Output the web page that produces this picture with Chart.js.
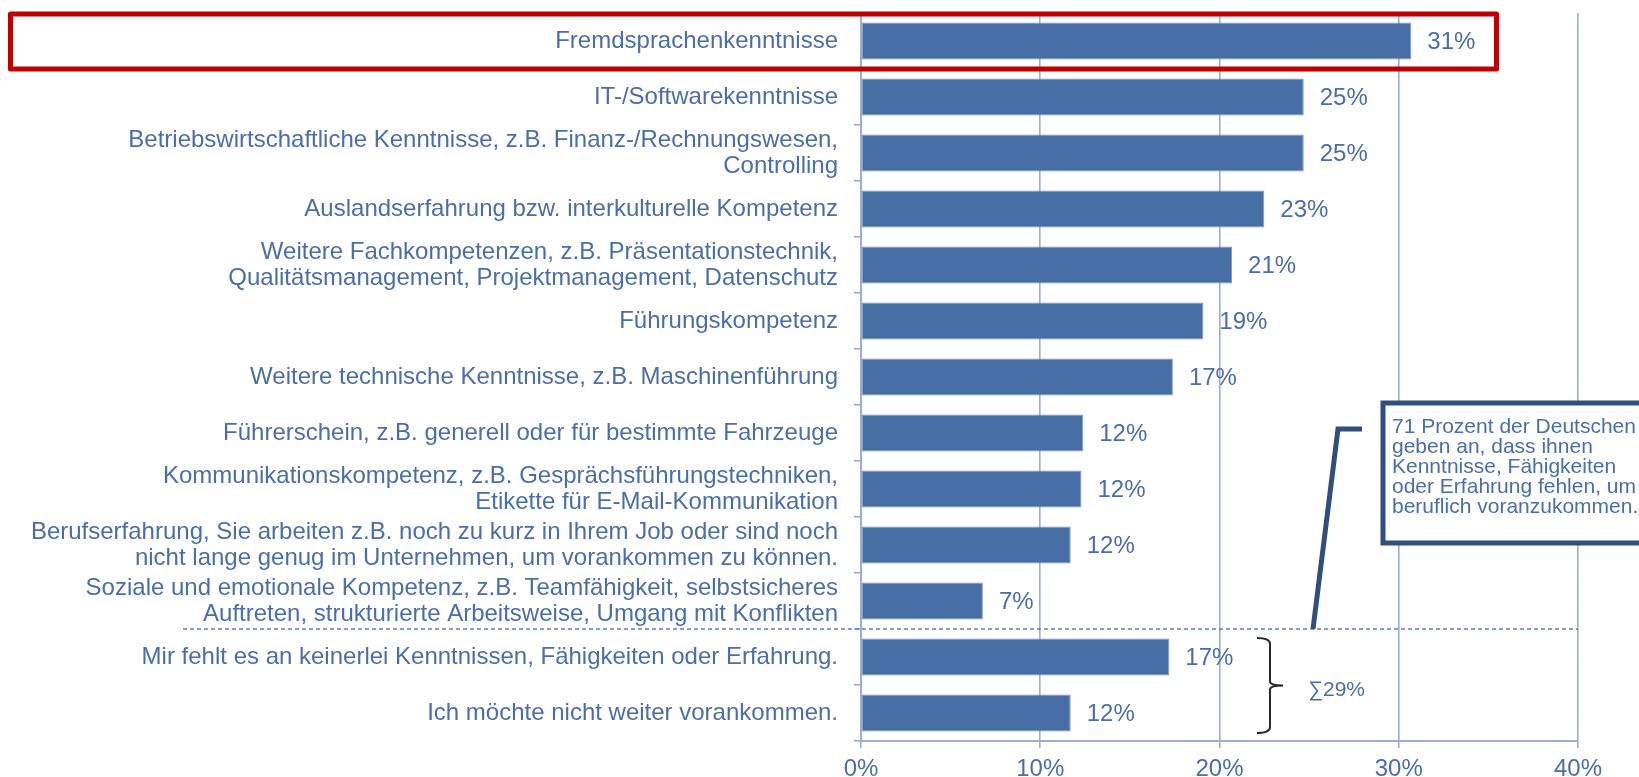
<!DOCTYPE html>
<html>
<head>
<meta charset="utf-8">
<script src="https://cdn.jsdelivr.net/npm/chart.js@4/dist/chart.umd.min.js"></script>
<style>
  html, body { margin: 0; padding: 0; background: #ffffff; }
  canvas { display: block; }
</style>
</head>
<body>
<canvas id="c" width="1639" height="777"></canvas>
<script>
const categories = [
  "Fremdsprachenkenntnisse",
  "IT-/Softwarekenntnisse",
  ["Betriebswirtschaftliche Kenntnisse, z.B. Finanz-/Rechnungswesen,", "Controlling"],
  "Auslandserfahrung bzw. interkulturelle Kompetenz",
  ["Weitere Fachkompetenzen, z.B. Präsentationstechnik,", "Qualitätsmanagement, Projektmanagement, Datenschutz"],
  "Führungskompetenz",
  "Weitere technische Kenntnisse, z.B. Maschinenführung",
  "Führerschein, z.B. generell oder für bestimmte Fahrzeuge",
  ["Kommunikationskompetenz, z.B. Gesprächsführungstechniken,", "Etikette für E-Mail-Kommunikation"],
  ["Berufserfahrung, Sie arbeiten z.B. noch zu kurz in Ihrem Job oder sind noch", "nicht lange genug im Unternehmen, um vorankommen zu können."],
  ["Soziale und emotionale Kompetenz, z.B. Teamfähigkeit, selbstsicheres", "Auftreten, strukturierte Arbeitsweise, Umgang mit Konflikten"],
  "Mir fehlt es an keinerlei Kenntnissen, Fähigkeiten oder Erfahrung.",
  "Ich möchte nicht weiter vorankommen."
];
const values = [30.7, 24.7, 24.7, 22.5, 20.7, 19.1, 17.4, 12.4, 12.3, 11.7, 6.8, 17.2, 11.7];
const valueLabels = ["31%", "25%", "25%", "23%", "21%", "19%", "17%", "12%", "12%", "12%", "7%", "17%", "12%"];
const xTicks = [0, 10, 20, 30, 40];
const noteLines = ["71 Prozent der Deutschen", "geben an, dass ihnen", "Kenntnisse, Fähigkeiten", "oder Erfahrung fehlen, um", "beruflich voranzukommen."];
const sumLabel = "∑29%";
const groupStart = 11; // first category of the "no need" group

const FONT = "'Liberation Sans', Arial, sans-serif";
const TEXT = "#4A6EA8";
const BAR = "#466EA5";
const GRID = "#9DAECF";
const DARK = "#2F4F7E";

const overlay = {
  id: 'overlay',
  afterDatasetsDraw(chart) {
    const ctx = chart.ctx;
    const x = chart.scales.x, y = chart.scales.y;
    const meta = chart.getDatasetMeta(0);
    const step = y.getPixelForValue(1) - y.getPixelForValue(0);
    ctx.save();
    // value labels
    ctx.font = "24px " + FONT;
    ctx.fillStyle = TEXT;
    ctx.textAlign = 'left';
    ctx.textBaseline = 'middle';
    meta.data.forEach((bar, i) => {
      ctx.fillText(valueLabels[i], bar.x + 16, bar.y + 1);
    });

    // dashed separator
    const sepY = (y.getPixelForValue(groupStart - 1) + y.getPixelForValue(groupStart)) / 2;
    ctx.strokeStyle = "#5F7FB5";
    ctx.lineWidth = 1.3;
    ctx.setLineDash([4, 3]);
    ctx.beginPath();
    ctx.moveTo(183, sepY);
    ctx.lineTo(x.right, sepY);
    ctx.stroke();
    ctx.setLineDash([]);

    // red highlight box around first row
    const r0 = y.getPixelForValue(0);
    ctx.strokeStyle = "#C00000";
    ctx.lineWidth = 5;
    ctx.lineJoin = 'round';
    const rTop = r0 - 27;
    ctx.strokeRect(10.5, rTop, 1486, r0 + step / 2 - rTop);

    // connector line
    ctx.strokeStyle = DARK;
    ctx.lineWidth = 5;
    ctx.lineJoin = 'miter';
    ctx.beginPath();
    ctx.moveTo(1362, 429);
    ctx.lineTo(1338, 429);
    ctx.lineTo(1313, sepY);
    ctx.stroke();

    // annotation box
    ctx.fillStyle = "#ffffff";
    ctx.fillRect(1383, 403, 300, 140);
    ctx.strokeStyle = DARK;
    ctx.lineWidth = 5;
    ctx.strokeRect(1383, 403, 300, 140);
    ctx.font = "21px " + FONT;
    ctx.fillStyle = TEXT;
    ctx.textAlign = 'left';
    ctx.textBaseline = 'middle';
    noteLines.forEach((t, i) => ctx.fillText(t, 1392, 427 + i * 20));

    // curly brace for last two bars
    const bTop = y.getPixelForValue(groupStart) - 19;
    const bBot = y.getPixelForValue(groupStart + 1) + 20;
    const bMid = (bTop + bBot) / 2;
    const bx = 1270;
    ctx.strokeStyle = "#2b2b2b";
    ctx.lineWidth = 2;
    ctx.beginPath();
    ctx.moveTo(bx - 13, bTop);
    ctx.quadraticCurveTo(bx, bTop, bx, bTop + 6);
    ctx.lineTo(bx, bMid - 4);
    ctx.quadraticCurveTo(bx, bMid, bx + 13, bMid);
    ctx.quadraticCurveTo(bx, bMid, bx, bMid + 4);
    ctx.lineTo(bx, bBot - 6);
    ctx.quadraticCurveTo(bx, bBot, bx - 13, bBot);
    ctx.stroke();

    ctx.font = "21px " + FONT;
    ctx.fillStyle = TEXT;
    ctx.fillText(sumLabel, 1308, bMid + 5);
    ctx.restore();
  }
};

new Chart(document.getElementById('c'), {
  type: 'bar',
  data: {
    labels: categories,
    datasets: [{
      data: values,
      backgroundColor: BAR,
      borderColor: "#7F98C2",
      borderWidth: 1,
      borderSkipped: false,
      barPercentage: 0.66,
      categoryPercentage: 1.0
    }]
  },
  options: {
    indexAxis: 'y',
    responsive: false,
    animation: false,
    devicePixelRatio: 1,
    layout: { padding: { top: 13, right: 61, left: 0, bottom: 0 } },
    plugins: { legend: { display: false }, tooltip: { enabled: false } },
    scales: {
      x: {
        min: 0, max: 40,
        afterBuildTicks(s) { s.ticks = xTicks.map(v => ({ value: v })); },
        afterFit(s) { s.height = 36; },
        ticks: {
          callback: v => v + '%',
          color: TEXT,
          font: { family: FONT, size: 24 },
          padding: 7,
          maxRotation: 0
        },
        grid: { color: GRID, lineWidth: 1.6, tickLength: 7, drawTicks: true },
        border: { color: GRID, width: 2 }
      },
      y: {
        afterFit(s) { s.width = 861; s.paddingTop = 0; s.paddingBottom = 0; },
        ticks: {
          color: TEXT,
          font: { family: FONT, size: 24, lineHeight: 1.09 },
          padding: 16,
          autoSkip: false
        },
        grid: { drawOnChartArea: false, offset: true, color: GRID, lineWidth: 1.6, tickLength: 7 },
        border: { color: GRID, width: 2 }
      }
    }
  },
  plugins: [overlay]
});
</script>
</body>
</html>
